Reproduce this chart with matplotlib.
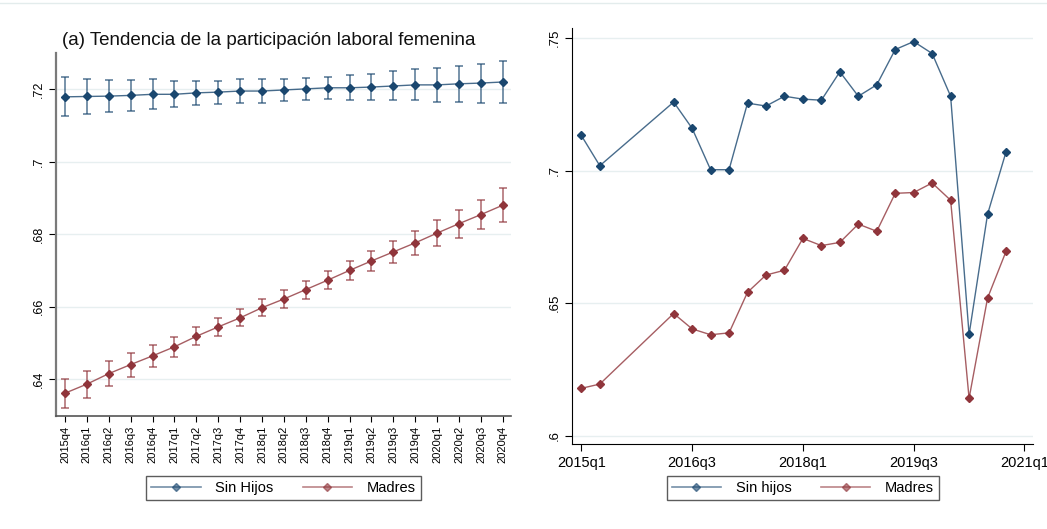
import numpy as np
import matplotlib.pyplot as plt
from matplotlib.lines import Line2D

plt.rcParams['font.family'] = ['Liberation Sans', 'DejaVu Sans']

NAVY = '#1a476f'
MAROON = '#90353b'
GRID = '#e7eff0'

# (a) trimestres con intervalos de confianza
trimestres = ['2015q4', '2016q1', '2016q2', '2016q3', '2016q4', '2017q1', '2017q2',
              '2017q3', '2017q4', '2018q1', '2018q2', '2018q3', '2018q4', '2019q1',
              '2019q2', '2019q3', '2019q4', '2020q1', '2020q2', '2020q3', '2020q4']
sin_hijos = [0.7179, 0.7180, 0.7181, 0.7183, 0.7186, 0.7186, 0.7190, 0.7192, 0.7195,
             0.7195, 0.7198, 0.7201, 0.7204, 0.7204, 0.7206, 0.7209, 0.7212, 0.7212,
             0.7215, 0.7217, 0.7220]
sin_hijos_ic = [0.0054, 0.0049, 0.0045, 0.0042, 0.0041, 0.0036, 0.0034, 0.0032, 0.0032,
                0.0032, 0.0030, 0.0030, 0.0031, 0.0035, 0.0036, 0.0040, 0.0043, 0.0047,
                0.0050, 0.0054, 0.0058]
madres = [0.6361, 0.6386, 0.6415, 0.6440, 0.6464, 0.6489, 0.6518, 0.6544, 0.6569,
          0.6597, 0.6621, 0.6647, 0.6673, 0.6700, 0.6726, 0.6751, 0.6776, 0.6803,
          0.6829, 0.6854, 0.6880]
madres_ic = [0.0040, 0.0037, 0.0035, 0.0033, 0.0030, 0.0027, 0.0025, 0.0025, 0.0023,
             0.0023, 0.0024, 0.0025, 0.0025, 0.0027, 0.0028, 0.0031, 0.0034, 0.0037,
             0.0039, 0.0041, 0.0047]

# panel derecho: tasas trimestrales observadas
trim_obs = ['2015q1', '2015q2', '2016q2', '2016q3', '2016q4', '2017q1', '2017q2',
            '2017q3', '2017q4', '2018q1', '2018q2', '2018q3', '2018q4', '2019q1',
            '2019q2', '2019q3', '2019q4', '2020q1', '2020q2', '2020q3', '2020q4']
obs_sin_hijos = [0.7132, 0.7018, 0.7258, 0.7159, 0.7003, 0.7003, 0.7254, 0.7243, 0.7280,
                 0.7269, 0.7265, 0.7372, 0.7280, 0.7323, 0.7456, 0.7486, 0.7441, 0.7280,
                 0.6382, 0.6835, 0.7070]
obs_madres = [0.6179, 0.6195, 0.6461, 0.6403, 0.6381, 0.6388, 0.6541, 0.6606, 0.6624,
              0.6744, 0.6717, 0.6729, 0.6798, 0.6771, 0.6914, 0.6917, 0.6953, 0.6888,
              0.6141, 0.6519, 0.6695]
ticks_der = ['2015q1', '2016q3', '2018q1', '2019q3', '2021q1']


def qnum(s):
    # numero de trimestres desde 2015q1
    return (int(s[:4]) - 2015) * 4 + int(s[-1]) - 1


fig = plt.figure(figsize=(10.47, 5.29), dpi=100)

# ---------------- panel (a) ----------------
ax1 = fig.add_axes([0.0535, 0.2136, 0.4345, 0.6862])
x = np.arange(len(trimestres))
for vals, ic, color in [(sin_hijos, sin_hijos_ic, NAVY), (madres, madres_ic, MAROON)]:
    ax1.errorbar(x, vals, yerr=ic, fmt='none', ecolor=color, elinewidth=1.1,
                 capsize=3.2, capthick=1.1, alpha=0.75, zorder=2)
    ax1.plot(x, vals, color=color, lw=1.0, alpha=0.8, zorder=3)
    ax1.plot(x, vals, ls='none', marker='D', ms=3.7, color=color, zorder=4)

ax1.set_xlim(-0.41, 20.37)
ax1.set_ylim(0.6298, 0.7300)
ax1.set_yticks([0.64, 0.66, 0.68, 0.70, 0.72])
ax1.set_yticklabels(['.64', '.66', '.68', '.7', '.72'], rotation=90, va='center', fontsize=9)
ax1.set_xticks(x)
ax1.set_xticklabels(trimestres, rotation=90, fontsize=8)
ax1.grid(axis='y', color=GRID, lw=1.0)
ax1.set_axisbelow(True)
for s in ['top', 'right']:
    ax1.spines[s].set_visible(False)
ax1.spines['left'].set_color('#7a7a7a')
ax1.spines['left'].set_linewidth(1.6)
ax1.spines['bottom'].set_color('#555555')
ax1.spines['bottom'].set_linewidth(1.2)
ax1.tick_params(axis='y', length=5, width=0.8, pad=3)
ax1.tick_params(axis='x', length=4, width=0.8, pad=3)

fig.text(62 / 1047, 1 - 40 / 529, '(a) Tendencia de la participación laboral femenina',
         fontsize=13.5, va='center', ha='left', color='#111111')

# ---------------- panel derecho ----------------
ax2 = fig.add_axes([0.5466, 0.1601, 0.4400, 0.7869])
xo = [qnum(q) for q in trim_obs]
for vals, color in [(obs_sin_hijos, NAVY), (obs_madres, MAROON)]:
    ax2.plot(xo, vals, color=color, lw=1.0, alpha=0.8, zorder=3)
    ax2.plot(xo, vals, ls='none', marker='D', ms=3.7, color=color, zorder=4)

ax2.set_xlim(-0.49, 24.46)
ax2.set_ylim(0.5968, 0.7537)
ax2.set_yticks([0.60, 0.65, 0.70, 0.75])
ax2.set_yticklabels(['.6', '.65', '.7', '.75'], rotation=90, va='center', fontsize=9.5)
ax2.set_xticks([qnum(q) for q in ticks_der])
ax2.set_xticklabels(ticks_der, fontsize=10.5)
ax2.grid(axis='y', color=GRID, lw=1.0)
ax2.set_axisbelow(True)
for s in ['top', 'right']:
    ax2.spines[s].set_visible(False)
ax2.tick_params(axis='both', length=5, width=0.8)

# leyendas
def handles(labels):
    return [Line2D([], [], color=c, lw=1.2, alpha=0.6, marker='D', ms=3.7,
                   markerfacecolor=c, markeredgecolor=c)
            for c in (NAVY, MAROON)], labels

for cx, labels in [(283.3 / 1047, ['Sin Hijos', 'Madres']),
                   (802.8 / 1047, ['Sin hijos', 'Madres'])]:
    h, l = handles(labels)
    leg = fig.legend(h, l, loc='center', bbox_to_anchor=(cx, 1 - 488 / 529), ncol=2,
                     fontsize=10.5, frameon=True, fancybox=False, handlelength=3.4,
                     columnspacing=2.0, borderpad=0.35, handletextpad=1.0)
    leg.get_frame().set_edgecolor('#333333')
    leg.get_frame().set_linewidth(1.0)

# filete superior
fig.add_artist(Line2D([0, 1], [1 - 2.5 / 529, 1 - 2.5 / 529], color='#e3ecec', lw=1.0))

fig.savefig('out.png', dpi=100)
